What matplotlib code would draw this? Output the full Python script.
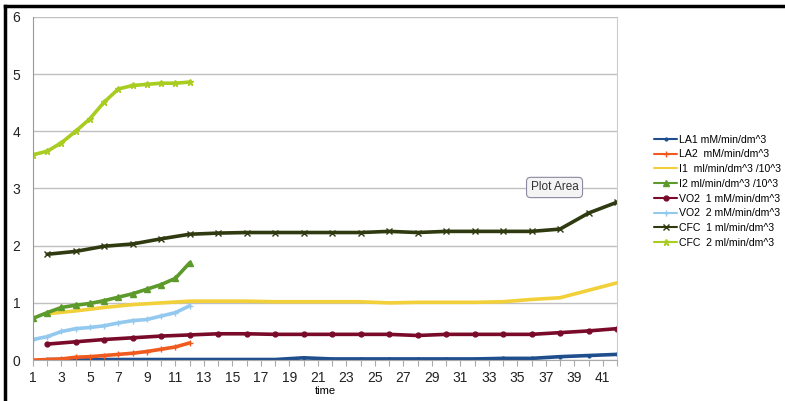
import matplotlib
matplotlib.use("Agg")
import matplotlib.pyplot as plt
from matplotlib.lines import Line2D

plt.rcParams["font.family"] = ["Liberation Sans", "DejaVu Sans"]

x_all = list(range(1, 43))
x_first12 = list(range(1, 13))
x_even = list(range(2, 43, 2))

la1 = [0.01, 0.01, 0.01, 0.01, 0.01, 0.01, 0.01, 0.01, 0.01, 0.04, 0.02,
       0.02, 0.02, 0.02, 0.02, 0.02, 0.03, 0.03, 0.06, 0.08, 0.10]
la2 = [0.0, 0.01, 0.02, 0.05, 0.06, 0.08, 0.10, 0.12, 0.15, 0.19, 0.23, 0.30]
i1 = [0.81, 0.86, 0.92, 0.97, 1.00, 1.03, 1.03, 1.03, 1.02, 1.02, 1.02,
      1.02, 1.00, 1.01, 1.01, 1.01, 1.02, 1.06, 1.09, 1.22, 1.35]
i2 = [0.73, 0.83, 0.92, 0.96, 0.99, 1.04, 1.10, 1.16, 1.24, 1.32, 1.43, 1.70]
vo2_1 = [0.28, 0.32, 0.36, 0.39, 0.42, 0.44, 0.46, 0.46, 0.45, 0.45, 0.45,
         0.45, 0.45, 0.43, 0.45, 0.45, 0.45, 0.45, 0.48, 0.51, 0.55]
vo2_2 = [0.36, 0.41, 0.50, 0.55, 0.57, 0.60, 0.65, 0.69, 0.71, 0.77, 0.83, 0.95]
cfc1 = [1.85, 1.90, 1.99, 2.03, 2.12, 2.20, 2.22, 2.23, 2.23, 2.23, 2.23,
        2.23, 2.25, 2.23, 2.25, 2.25, 2.25, 2.25, 2.29, 2.57, 2.76]
cfc2 = [3.59, 3.65, 3.80, 4.00, 4.22, 4.51, 4.74, 4.80, 4.82, 4.84, 4.84, 4.86]

labels = ["LA1 mM/min/dm^3", "LA2  mM/min/dm^3", "I1  ml/min/dm^3 /10^3",
          "I2 ml/min/dm^3 /10^3", "VO2  1 mM/min/dm^3", "VO2  2 mM/min/dm^3",
          "CFC  1 ml/min/dm^3", "CFC  2 ml/min/dm^3"]
y_ticks = [0, 1, 2, 3, 4, 5, 6]
x_labels = list(range(1, 42, 2))

fig = plt.figure(figsize=(7.85, 4.01), dpi=100)
ax = fig.add_axes([0.042, 0.102, 0.744, 0.856])

series = [
    (x_even, la1, "#1f4e8c", ".", 4),
    (x_first12, la2, "#f05a1e", "+", 4),
    (x_even, i1, "#f2d03a", None, 0),
    (x_first12, i2, "#5b9a2b", "^", 5),
    (x_even, vo2_1, "#7a0a2a", "o", 3.5),
    (x_first12, vo2_2, "#93c9ee", "+", 5),
    (x_even, cfc1, "#303a10", "x", 4),
    (x_first12, cfc2, "#a8cc20", "*", 5),
]
for (xs, ys, c, m, ms), lab in zip(series, labels):
    ax.plot(xs, ys, color=c, lw=2.6, marker=m, ms=ms, mew=1.0, label=lab,
            solid_capstyle="round", solid_joinstyle="round")

ax.set_xlim(1, 42)
ax.set_ylim(0, 6)
ax.set_yticks(y_ticks)
ax.set_xticks(x_all)
ax.set_xticklabels([str(v) if v in x_labels else "" for v in x_all])
ax.yaxis.grid(True, color="#c0c0c0", lw=1)
ax.set_axisbelow(True)
ax.tick_params(axis="y", length=0, labelsize=10, pad=9, colors="#222222")
ax.tick_params(axis="x", length=4, direction="out", color="#aaaaaa",
               labelsize=10, colors="#222222", pad=4)
ax.spines["top"].set_visible(False)
ax.spines["left"].set_color("#999999")
ax.spines["bottom"].set_color("#aaaaaa")
ax.spines["right"].set_color("#cccccc")
ax.set_xlabel("time", fontsize=8, labelpad=0.5)

handles, labs = ax.get_legend_handles_labels()
leg = fig.legend(handles, labs, loc="upper left", bbox_to_anchor=(0.828, 0.675),
                 frameon=False, fontsize=7.6, handlelength=2.2, labelspacing=0.45,
                 handletextpad=0.15, borderaxespad=0)
for h in leg.legend_handles:
    h.set_linewidth(1.5)

fig.text(0.676, 0.525, "Plot Area", fontsize=8.5, color="#333333",
         bbox=dict(boxstyle="round,pad=0.35", fc="#f4f4f4", ec="#8a8aa0", lw=0.8))

fig.add_artist(Line2D([0.007, 0.007], [0.0, 0.985], transform=fig.transFigure,
                      color="black", lw=2.5))
fig.add_artist(Line2D([0.006, 1.0], [0.985, 0.985], transform=fig.transFigure,
                      color="black", lw=2.5))

fig.savefig("out.png", dpi=100)
